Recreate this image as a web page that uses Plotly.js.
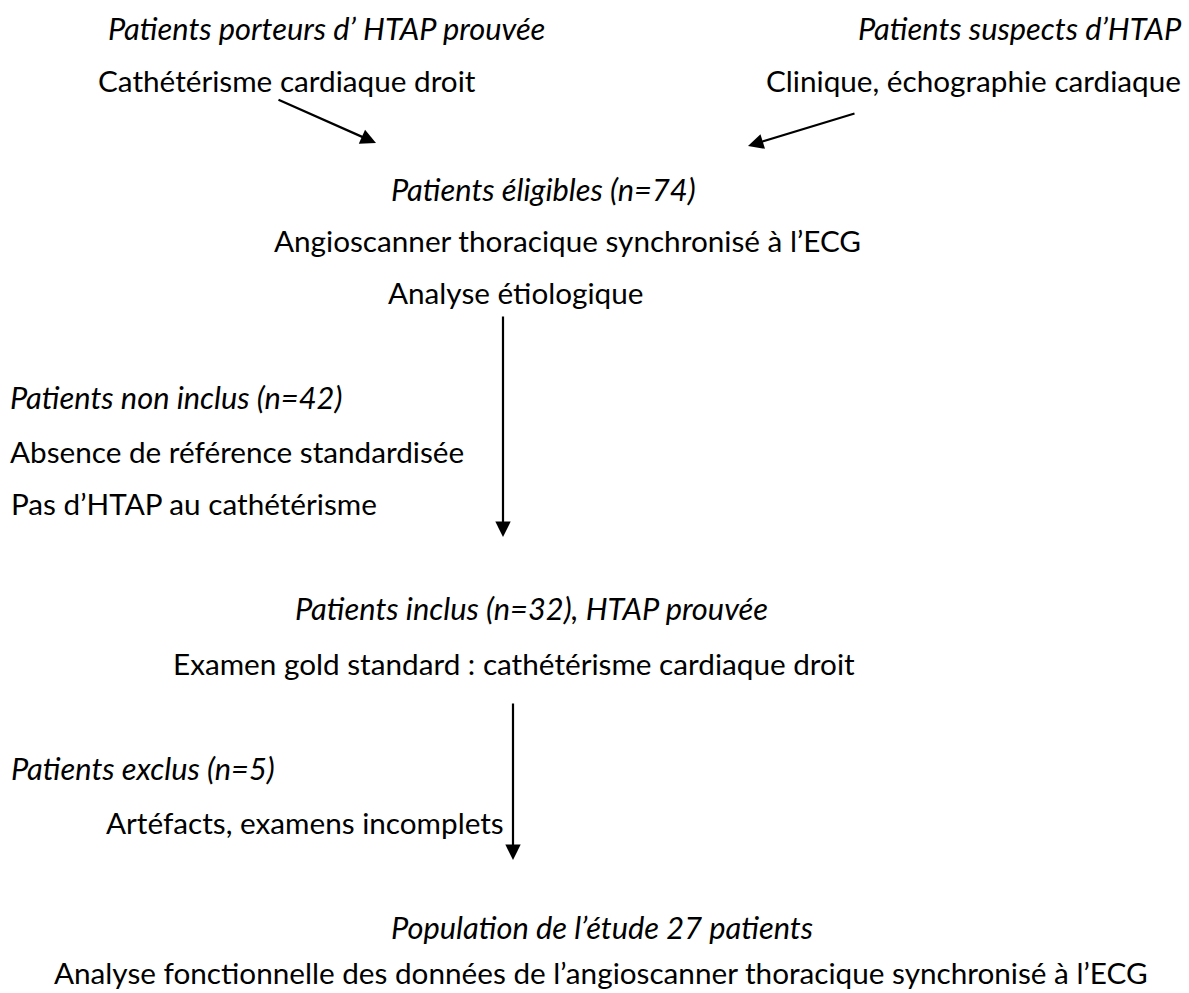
<!DOCTYPE html>
<html><head><meta charset="utf-8">
<script src="https://cdn.plot.ly/plotly-3.0.1.min.js"></script>
<style>body{margin:0;background:#fff}#c{width:1189px;height:993px}</style>
</head><body><div id="c"></div>
<script>
// Texts of the flowchart
const labels = [
  "Patients porteurs d\u2019 HTAP prouvée",
  "Cathétérisme cardiaque droit",
  "Patients suspects d\u2019HTAP",
  "Clinique, échographie cardiaque",
  "Patients éligibles (n=74)",
  "Angioscanner thoracique synchronisé à l\u2019ECG",
  "Analyse étiologique",
  "Patients non inclus (n=42)",
  "Absence de référence standardisée",
  "Pas d\u2019HTAP au cathétérisme",
  "Patients inclus (n=32), HTAP prouvée",
  "Examen gold standard : cathétérisme cardiaque droit",
  "Patients exclus (n=5)",
  "Artéfacts, examens incomplets",
  "Population de l\u2019étude 27 patients",
  "Analyse fonctionnelle des données de l\u2019angioscanner thoracique synchronisé à l\u2019ECG"
];
const italic = [true,false,true,false,true,false,false,true,false,false,true,false,true,false,true,false];

// Layout (page coordinates)
const labelX = [326,287,1184,1183,543,567,515,8,8,9,531,514,9,104,602,601];
const labelY = [28,80,28,80,189,240,292,397,451,503,608,663,768,822,927,992];
const labelYAnchor = ["middle","middle","middle","middle","middle","middle","middle","middle","middle","middle","middle","middle","middle","middle","middle","bottom"];
const labelAnchor = ["center","center","right","right","center","center","center","left","left","left","center","center","left","left","center","center"];

// Arrows: from (x0,y0) to (x1,y1)
const arrowFromX = [277,856,503,513];
const arrowFromY = [99,113,315,702];
const arrowToX = [376,748,503,513];
const arrowToY = [143,146,537,860];

const FONT = "Lato, 'Open Sans', sans-serif";
const annotations = [];
labels.forEach((t,i)=>{
  annotations.push({
    x: labelX[i], y: labelY[i], xref:'x', yref:'y',
    text: italic[i] ? '<i>'+t+'</i>' : t,
    showarrow:false, xanchor: labelAnchor[i], yanchor: labelYAnchor[i],
    font:{family:FONT, size: italic[i] ? 30.8 : 29.7, color:'#000'}
  });
});
arrowToX.forEach((x,i)=>{
  annotations.push({
    x: x, y: arrowToY[i], ax: arrowFromX[i], ay: arrowFromY[i],
    xref:'x', yref:'y', axref:'x', ayref:'y',
    text:'', showarrow:true, arrowhead:2, arrowsize:1.4, arrowwidth:2.2, arrowcolor:'#000'
  });
});

Plotly.newPlot('c', [], {
  width:1189, height:993,
  margin:{l:0,r:0,t:0,b:0},
  paper_bgcolor:'#fff', plot_bgcolor:'#fff',
  xaxis:{range:[0,1189], visible:false, fixedrange:true},
  yaxis:{range:[993,0], visible:false, fixedrange:true},
  showlegend:false,
  annotations: annotations
}, {staticPlot:true});
</script></body></html>
